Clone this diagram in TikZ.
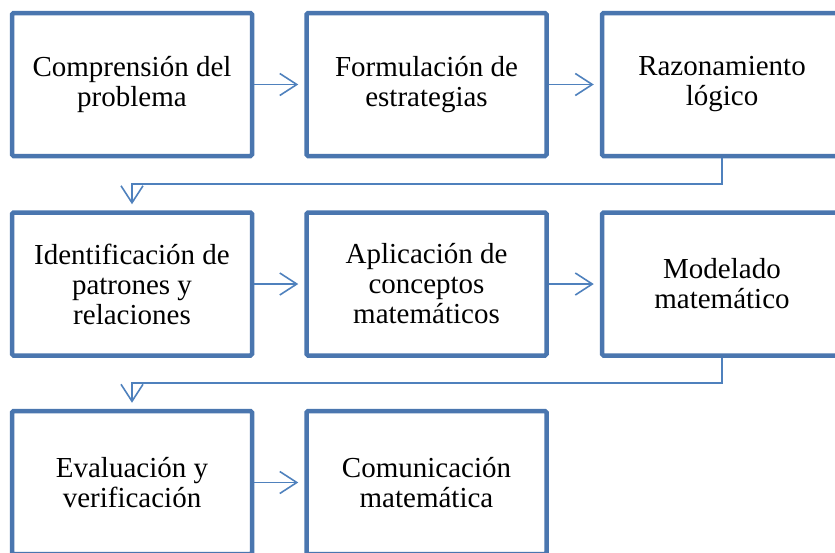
\documentclass[tikz,border=0pt]{standalone}
\usepackage{fontspec}
\setmainfont{Liberation Serif}
\usetikzlibrary{arrows.meta}
\definecolor{boxblue}{RGB}{74,118,175}
\definecolor{linkblue}{RGB}{79,129,189}
\tikzset{
  stepbox/.style={draw=boxblue, line width=4.5pt, rounded corners=1.5pt, fill=white,
    minimum width=240pt, minimum height=143pt, inner sep=0pt, align=center,
    font=\fontsize{29}{30}\selectfont, text=black},
  conn/.style={draw=linkblue, line width=1.6pt,
    -{Straight Barb[length=17pt,width=22pt,line width=1.6pt]}, shorten >=6pt}
}
\begin{document}
\begin{tikzpicture}[x=1pt,y=-1pt]
\useasboundingbox (0,0) rectangle (835,552);
\clip (0,0) rectangle (835,552);
\node[stepbox] (a1) at (132,84.5) {Comprensión del\\problema};
\node[stepbox] (a2) at (426.5,84.5) {Formulación de\\estrategias};
\node[stepbox] (a3) at (722,84.5) {Razonamiento\\lógico};
\node[stepbox] (b1) at (132,284) {Identificación de\\patrones y\\relaciones};
\node[stepbox] (b2) at (426.5,284) {Aplicación de\\conceptos\\matemáticos};
\node[stepbox] (b3) at (722,284) {Modelado\\matemático};
\node[stepbox] (c1) at (132,482.5) {Evaluación y\\verificación};
\node[stepbox] (c2) at (426.5,482.5) {Comunicación\\matemática};
\draw[conn] (a1.east) -- (a2.west);
\draw[conn] (a2.east) -- (a3.west);
\draw[conn] (b1.east) -- (b2.west);
\draw[conn] (b2.east) -- (b3.west);
\draw[conn] (c1.east) -- (c2.west);
\draw[conn] (a3.south) -- (a3.south |- 0,184) -| (b1.north);
\draw[conn] (b3.south) -- (b3.south |- 0,383) -| (c1.north);
\end{tikzpicture}
\end{document}
